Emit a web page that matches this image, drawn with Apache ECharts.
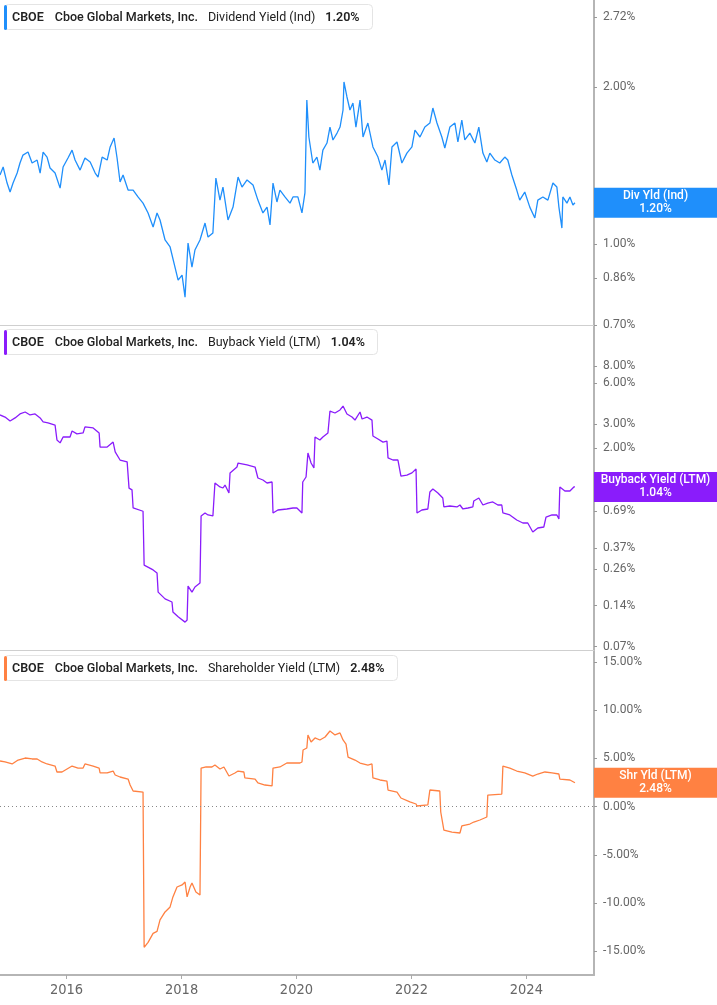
<!DOCTYPE html>
<html><head><meta charset="utf-8">
<script src="https://cdn.jsdelivr.net/npm/echarts@6/dist/echarts.min.js"></script>
<style>html,body{margin:0;padding:0;background:#fff}#c{width:717px;height:1005px}</style>
</head><body><div id="c"></div>
<script>
// ---------- DATA ----------
const divDates = [
'2014-11-04','2014-11-24','2014-12-19',
'2015-01-07','2015-01-26','2015-02-21','2015-03-11','2015-03-30','2015-05-01','2015-05-27','2015-06-28','2015-07-17','2015-08-05','2015-08-30','2015-09-18','2015-10-20','2015-11-21','2015-12-10',
'2016-01-10','2016-02-05','2016-02-24','2016-03-27','2016-04-27','2016-05-30','2016-07-01','2016-07-19','2016-08-14','2016-09-15','2016-10-04','2016-10-29','2016-11-17','2016-12-06','2016-12-25',
'2017-01-26','2017-02-27','2017-03-30','2017-05-01','2017-06-02','2017-07-04','2017-07-29','2017-08-17','2017-09-18','2017-10-20','2017-11-20','2017-12-10',
'2018-01-04','2018-01-23','2018-02-11','2018-03-08','2018-03-27','2018-04-28','2018-05-30','2018-06-18','2018-07-19','2018-08-07','2018-09-02','2018-09-21','2018-10-23','2018-11-24','2018-12-26',
'2019-01-20','2019-02-21','2019-03-31','2019-05-01','2019-06-02','2019-06-28','2019-07-17','2019-08-05','2019-08-30','2019-09-18','2019-10-20','2019-11-21','2019-12-10',
'2020-01-10','2020-02-05','2020-02-24','2020-03-07','2020-03-20','2020-04-14','2020-05-10','2020-05-29','2020-06-17','2020-07-13','2020-08-01','2020-08-20','2020-09-15','2020-10-04','2020-10-23','2020-10-29','2020-11-17','2020-12-06','2020-12-25',
'2021-01-13','2021-02-08','2021-02-27','2021-03-30','2021-05-01','2021-06-02','2021-06-27','2021-07-17','2021-08-11','2021-08-30','2021-10-01','2021-11-01','2021-12-03',
'2022-01-04','2022-01-23','2022-02-24','2022-03-27','2022-04-28','2022-05-17','2022-06-12','2022-07-13','2022-08-01','2022-09-02','2022-10-04','2022-10-23','2022-11-17','2022-12-06',
'2023-01-07','2023-02-08','2023-03-05','2023-03-31','2023-04-25','2023-05-14','2023-06-15','2023-07-16','2023-08-17','2023-09-05','2023-10-01','2023-11-01','2023-11-20','2023-12-22',
'2024-01-23','2024-02-24','2024-03-14','2024-04-15','2024-05-17','2024-06-18','2024-07-13','2024-07-26','2024-08-14','2024-08-20','2024-09-15','2024-10-04','2024-10-23','2024-11-05'
];
const divVals = [
1.356,1.405,1.309,
1.258,1.309,1.368,1.430,1.481,1.501,1.430,1.449,1.368,1.501,1.468,1.399,1.368,1.280,1.405,
1.462,1.514,1.449,1.386,1.462,1.436,1.368,1.344,1.468,1.449,1.535,1.597,1.462,1.315,1.356,
1.269,1.269,1.231,1.198,1.147,1.078,1.147,1.112,1.018,0.987,0.903,0.853,
0.872,0.791,1.004,0.903,0.974,1.018,1.097,1.031,1.050,1.338,1.214,1.286,1.112,1.177,1.344,
1.286,1.327,1.298,1.214,1.147,1.177,1.088,1.309,1.204,1.269,1.231,1.198,1.231,
1.231,1.147,1.253,1.888,1.604,1.430,1.468,1.386,1.514,1.562,1.676,1.583,1.632,1.676,1.807,2.045,1.914,1.807,1.864,
1.676,1.888,1.604,1.706,1.535,1.468,1.386,1.449,1.298,1.535,1.569,1.430,1.494,
1.535,1.654,1.604,1.676,1.706,1.823,1.706,1.604,1.528,1.676,1.706,1.569,1.729,1.583,
1.632,1.562,1.676,1.494,1.436,1.494,1.449,1.430,1.468,1.449,1.356,1.269,1.214,1.258,
1.177,1.122,1.214,1.231,1.214,1.309,1.286,1.177,1.073,1.231,1.198,1.231,1.188,1.20
];

const bbDates = [
'2014-11-04','2014-12-06',
'2015-01-07','2015-02-08','2015-03-11','2015-04-13','2015-05-14','2015-06-15','2015-07-17','2015-08-05','2015-09-05','2015-10-20','2015-11-01','2015-11-21','2015-12-10',
'2016-01-23','2016-02-05','2016-03-07','2016-04-15','2016-04-27','2016-06-18','2016-07-26','2016-08-01','2016-09-15','2016-10-23','2016-11-05','2016-12-06',
'2017-01-20','2017-02-01','2017-02-20','2017-02-27','2017-05-01','2017-05-08','2017-07-04','2017-07-29','2017-08-05','2017-09-18','2017-11-01','2017-11-07','2017-12-10',
'2018-01-23','2018-02-05','2018-02-11','2018-03-08','2018-03-27','2018-04-28','2018-05-05','2018-05-30','2018-06-18','2018-07-19','2018-08-01','2018-09-02','2018-09-21','2018-10-04','2018-10-29','2018-11-05','2018-12-19','2018-12-26',
'2019-02-21','2019-04-13','2019-05-01','2019-06-02','2019-06-28','2019-07-30','2019-08-05','2019-09-05','2019-11-01','2019-12-10',
'2020-01-04','2020-02-05','2020-02-10','2020-03-02','2020-03-14','2020-04-03','2020-04-21','2020-04-28','2020-05-29','2020-06-17','2020-07-19','2020-08-01','2020-09-02','2020-10-04','2020-10-23','2020-11-17','2020-12-19',
'2021-01-07','2021-02-08','2021-02-21','2021-03-24','2021-04-25','2021-05-01','2021-06-02','2021-07-04','2021-07-29','2021-08-05','2021-09-05','2021-10-07','2021-10-26','2021-12-03',
'2022-01-04','2022-01-30','2022-02-05','2022-03-08','2022-04-15','2022-04-28','2022-05-17','2022-06-18','2022-07-19','2022-07-26','2022-09-02','2022-10-17','2022-11-05','2022-11-24','2022-12-26',
'2023-01-26','2023-02-01','2023-03-05','2023-03-31','2023-05-01','2023-06-02','2023-07-04','2023-07-29','2023-08-05','2023-09-18','2023-11-01','2023-12-10',
'2024-01-10','2024-02-11','2024-03-14','2024-04-21','2024-05-05','2024-06-12','2024-07-13','2024-07-26','2024-08-01','2024-09-02','2024-10-04','2024-10-29','2024-11-05'
];
const bbVals = [
3.51,3.39,
3.17,3.34,3.57,3.69,3.51,3.57,3.34,3.12,3.07,2.96,2.30,2.19,2.42,
2.42,2.68,2.55,2.59,2.87,2.82,2.59,2.04,2.04,2.22,1.88,1.64,
1.59,1.02,0.99,0.73,0.69,0.278,0.256,0.243,0.176,0.157,0.149,0.126,0.116,
0.106,0.110,0.195,0.176,0.192,0.205,0.637,0.670,0.648,0.637,1.112,1.040,1.022,1.075,0.939,1.317,1.457,1.559,
1.508,1.457,1.210,1.170,1.112,1.131,0.670,0.705,0.717,0.729,
0.729,0.670,1.131,1.231,1.846,1.559,1.433,2.42,2.30,2.42,2.59,3.75,3.63,3.82,4.08,3.57,3.39,
3.22,3.69,3.28,3.39,3.22,2.46,2.34,2.22,2.26,1.70,1.64,1.64,1.25,1.27,
1.32,1.41,0.670,0.705,0.717,0.955,1.005,0.939,0.863,0.742,0.754,0.742,0.767,0.717,0.729,
0.742,0.821,0.863,0.767,0.793,0.807,0.767,0.767,0.670,0.648,0.595,0.566,
0.566,0.486,0.520,0.529,0.626,0.648,0.648,0.605,1.040,0.972,0.972,1.040,1.04
];

const shyDates = [
'2014-11-04','2014-12-06',
'2015-01-20','2015-02-27','2015-04-13','2015-05-27','2015-06-28','2015-07-29','2015-08-30','2015-10-20','2015-11-01','2015-12-03',
'2016-01-04','2016-02-05','2016-03-14','2016-04-15','2016-04-27','2016-06-18','2016-07-26','2016-08-01','2016-09-15','2016-10-23','2016-11-05','2016-12-06',
'2017-01-26','2017-02-08','2017-02-27','2017-05-01','2017-05-08','2017-06-02','2017-07-04','2017-07-29','2017-08-17','2017-09-18','2017-10-20','2017-11-07','2017-12-03',
'2018-01-04','2018-01-23','2018-02-05','2018-02-24','2018-03-08','2018-04-02','2018-04-28','2018-05-05','2018-06-06','2018-07-13','2018-08-01','2018-09-02','2018-09-27','2018-10-29','2018-12-06','2018-12-26',
'2019-02-01','2019-02-07','2019-04-13','2019-05-01','2019-06-15','2019-07-30','2019-08-05','2019-09-18','2019-11-01','2019-12-10',
'2020-01-23','2020-02-05','2020-02-12','2020-03-07','2020-03-14','2020-04-03','2020-04-28','2020-05-29','2020-07-01','2020-08-01','2020-09-02','2020-10-04','2020-10-23','2020-11-11','2020-11-24',
'2021-01-07','2021-02-08','2021-03-30','2021-04-25','2021-05-01','2021-06-15','2021-07-29','2021-08-05','2021-10-01','2021-10-26','2021-12-22',
'2022-01-30','2022-02-05','2022-04-15','2022-04-28','2022-06-30','2022-07-06','2022-07-26','2022-09-15','2022-11-05','2022-11-17',
'2023-01-07','2023-02-01','2023-03-12','2023-04-25','2023-05-01','2023-07-29','2023-08-05','2023-09-18','2023-11-01','2023-12-22',
'2024-02-11','2024-03-14','2024-04-28','2024-06-12','2024-07-26','2024-08-01','2024-10-04','2024-11-05'
];
const shyVals = [
4.74,4.64,
4.43,4.84,5.05,4.95,4.95,4.64,4.43,4.22,3.60,3.60,
3.91,4.22,4.01,4.01,4.43,4.22,4.01,3.50,3.50,3.70,3.29,3.08,
2.87,2.25,1.63,1.52,-14.59,-14.07,-13.14,-12.93,-11.75,-10.92,-10.40,-9.36,-8.33,
-8.12,-7.81,-9.36,-8.33,-7.91,-8.85,-9.16,4.01,4.12,4.12,4.32,3.91,4.12,3.18,3.50,3.70,
3.60,2.98,2.87,2.46,2.25,2.15,4.01,4.12,4.53,4.53,
4.53,4.64,5.88,6.09,7.44,6.71,7.13,6.92,7.23,7.85,7.44,7.65,6.92,6.50,5.15,
4.84,4.53,4.32,4.43,2.98,2.77,2.66,1.73,1.52,0.90,0.49,
0.28,0.07,0.18,1.73,1.63,-0.55,-2.42,-2.63,-2.73,-2.00,
-1.80,-1.59,-1.38,-1.07,1.21,1.31,4.22,4.01,3.70,3.50,
3.18,3.39,3.60,3.50,3.39,2.87,2.77,2.48
];

const xTickYears = ['2016','2018','2020','2022','2024'];
const divTicks = [0.70, 0.86, 1.00, 2.00, 2.72];
const bbTicks = [0.07, 0.14, 0.26, 0.37, 0.69, 1.00, 2.00, 3.00, 6.00, 8.00];
const shyTicks = [-15, -10, -5, 0, 5, 10, 15];

const X_MIN = '2014-11-04', X_MAX = '2025-03-06';

// ---------- STYLE ----------
const BLUE = '#1f8ffb', PURPLE = '#8a1cfb', ORANGE = '#ff8142';
const FONT = 'Roboto, "Liberation Sans", sans-serif';
const T = s => Date.parse(s);
const lastDiv = divVals[divVals.length - 1];
const lastBb = bbVals[bbVals.length - 1];
const lastShy = shyVals[shyVals.length - 1];

const pct = v => v.toFixed(2) + '%';
const expPct = v => Math.exp(v).toFixed(2) + '%';
const xTicks = xTickYears.map(y => T(y + '-01-01'));

function xAxisFor(gi, bottom) {
  return {
    type: 'value', gridIndex: gi, min: T(X_MIN), max: T(X_MAX), scale: true,
    axisLine: {show: true, onZero: false, lineStyle: {color: bottom ? '#b5b5b5' : '#cfcfcf', width: bottom ? 2 : 1}},
    axisTick: bottom ? {show: true, length: 4, lineStyle: {color: '#aaa'}, customValues: xTicks} : {show: false},
    axisLabel: bottom ? {show: true, color: '#666', fontSize: 14.5, margin: 8,
      fontFamily: '"DejaVu Sans Condensed","Liberation Sans Narrow",sans-serif',
      customValues: xTicks,
      formatter: v => String(new Date(v).getUTCFullYear())} : {show: false},
    splitLine: {show: false}
  };
}
function yAxisFor(gi, min, max, ticks, fmt) {
  return {
    type: 'value', gridIndex: gi, position: 'right', min: min, max: max, scale: true,
    axisLine: {show: true, onZero: false, lineStyle: {color: '#b5b5b5', width: 2}},
    axisTick: {show: true, length: 3, inside: false, lineStyle: {color: '#999'}, customValues: ticks},
    axisLabel: {show: true, color: '#666', fontSize: 12, fontFamily: FONT, margin: 9, customValues: ticks, formatter: fmt},
    splitLine: {show: false}
  };
}
function header(top, name, val) {
  const fs = 12.5;
  return {
    left: 4, top: top,
    text: '{a|CBOE}{b|Cboe Global Markets, Inc.}{c|' + name + '}{d|' + val + '}',
    backgroundColor: '#fff', borderColor: '#e4e4e4', borderWidth: 1, borderRadius: 4,
    padding: [7, 13, 6, 8],
    textStyle: {rich: {
      a: {fontSize: fs, fontWeight: 600, color: '#222', fontFamily: FONT, padding: [0, 11, 0, 0]},
      b: {fontSize: fs, fontWeight: 500, color: '#222', fontFamily: FONT, padding: [0, 10, 0, 0]},
      c: {fontSize: fs, fontWeight: 400, color: '#222', fontFamily: FONT, padding: [0, 10, 0, 0]},
      d: {fontSize: fs, fontWeight: 600, color: '#222', fontFamily: FONT}
    }}
  };
}
function box(color, text, yv) {
  return {
    symbol: 'rect', silent: true, animation: false,
    data: [{coord: [T(X_MAX), yv], symbol: 'rect', symbolSize: [123, 30], symbolOffset: [61.5, 0],
      itemStyle: {color: color},
      label: {show: true, position: 'inside', formatter: text, color: '#fff', fontSize: 12,
        fontWeight: 500, lineHeight: 13, fontFamily: FONT, align: 'center'}}]
  };
}

const chart = echarts.init(document.getElementById('c'), null, {renderer: 'canvas'});
chart.setOption({
  animation: false,
  backgroundColor: '#fff',
  title: [
    header(4, 'Dividend Yield (Ind)', pct(lastDiv)),
    header(329, 'Buyback Yield (LTM)', pct(lastBb)),
    header(655, 'Shareholder Yield (LTM)', pct(lastShy))
  ],
  graphic: [
    {type: 'rect', left: 4, top: 5, z: 100, shape: {width: 3, height: 25, r: 1.5}, style: {fill: BLUE}},
    {type: 'rect', left: 4, top: 330, z: 100, shape: {width: 3, height: 25, r: 1.5}, style: {fill: PURPLE}},
    {type: 'rect', left: 4, top: 656, z: 100, shape: {width: 3, height: 25, r: 1.5}, style: {fill: ORANGE}}
  ],
  grid: [
    {left: 0, right: 123, top: 0, height: 325, outerBoundsMode: 'none', containLabel: false},
    {left: 0, right: 123, top: 325, height: 325, outerBoundsMode: 'none', containLabel: false},
    {left: 0, right: 123, top: 650, height: 325, outerBoundsMode: 'none', containLabel: false}
  ],
  xAxis: [xAxisFor(0, false), xAxisFor(1, false), xAxisFor(2, true)],
  yAxis: [
    yAxisFor(0, Math.log(0.6994), Math.log(2.937), divTicks.map(Math.log), expPct),
    yAxisFor(1, Math.log(0.0662), Math.log(16.05), bbTicks.map(Math.log), expPct),
    yAxisFor(2, -17.46, 16.255, shyTicks, pct)
  ],
  series: [
    {type: 'line', xAxisIndex: 0, yAxisIndex: 0, showSymbol: false, symbol: 'none',
     data: divDates.map((d, i) => [T(d), Math.log(divVals[i])]),
     lineStyle: {color: BLUE, width: 1.3}, itemStyle: {color: BLUE},
     markPoint: box(BLUE, 'Div Yld (Ind)\n' + pct(lastDiv), Math.log(lastDiv))},
    {type: 'line', xAxisIndex: 1, yAxisIndex: 1, showSymbol: false, symbol: 'none',
     data: bbDates.map((d, i) => [T(d), Math.log(bbVals[i])]),
     lineStyle: {color: PURPLE, width: 1.3}, itemStyle: {color: PURPLE},
     markPoint: box(PURPLE, 'Buyback Yield (LTM)\n' + pct(lastBb), Math.log(lastBb))},
    {type: 'line', xAxisIndex: 2, yAxisIndex: 2, showSymbol: false, symbol: 'none',
     data: shyDates.map((d, i) => [T(d), shyVals[i]]),
     lineStyle: {color: ORANGE, width: 1.3}, itemStyle: {color: ORANGE},
     markLine: {silent: true, symbol: 'none', animation: false, label: {show: false},
       lineStyle: {color: '#888', type: [1, 3], width: 1}, data: [{yAxis: 0}]},
     markPoint: box(ORANGE, 'Shr Yld (LTM)\n' + pct(lastShy), lastShy)}
  ]
});
</script>
</body></html>
